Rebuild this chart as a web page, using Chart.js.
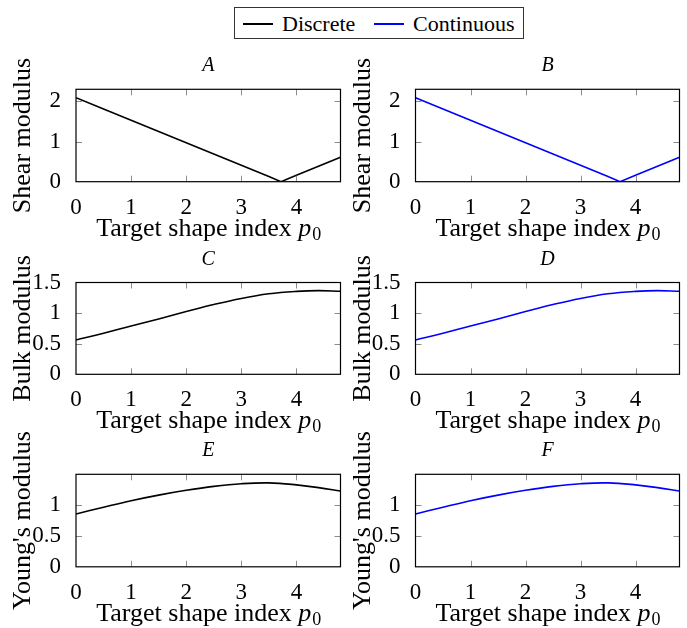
<!DOCTYPE html>
<html>
<head>
<meta charset="utf-8">
<script src="https://cdn.jsdelivr.net/npm/chart.js@4.4.0/dist/chart.umd.min.js"></script>
<style>
    body { margin: 0; background: #fff; width: 687px; height: 628px; position: relative; overflow: hidden; font-family: 'Liberation Serif', serif; }
    canvas { position: absolute; }
    #legend { position: absolute; left: 234px; top: 7px; width: 290px; height: 32px; box-sizing: border-box; border: 1px solid #333; font-size: 22px; }
    #legend .swatch { position: absolute; top: 15px; height: 1.6px; }
    #legend .label { position: absolute; top: 1px; line-height: 30px; }
</style>
</head>
<body>
<div id="legend">
    <span class="swatch" style="left:8px;width:30px;background:#000"></span>
    <span class="label" style="left:47px">Discrete</span>
    <span class="swatch" style="left:139px;width:30px;background:#00f"></span>
    <span class="label" style="left:178px">Continuous</span>
</div>
<canvas id="chartA"></canvas>
<canvas id="chartB"></canvas>
<canvas id="chartC"></canvas>
<canvas id="chartD"></canvas>
<canvas id="chartE"></canvas>
<canvas id="chartF"></canvas>
<script>
// target shape index samples
const pShear = [0, 0.5, 1, 1.5, 2, 2.5, 3, 3.5, 3.72, 4, 4.5, 4.8];
const pSmooth = [0, 0.5, 1, 1.5, 2, 2.5, 3, 3.5, 4, 4.4, 4.8];

const shearDiscrete = [2.09, 1.81, 1.53, 1.25, 0.97, 0.69, 0.41, 0.13, 0, 0.16, 0.44, 0.61];
const shearContinuous = [2.09, 1.81, 1.53, 1.25, 0.97, 0.69, 0.41, 0.13, 0, 0.16, 0.44, 0.61];
const bulkDiscrete = [0.56, 0.67, 0.79, 0.905, 1.025, 1.14, 1.24, 1.315, 1.355, 1.368, 1.357];
const bulkContinuous = [0.56, 0.67, 0.79, 0.905, 1.025, 1.14, 1.24, 1.315, 1.355, 1.368, 1.357];
const youngDiscrete = [0.85, 0.96, 1.065, 1.155, 1.232, 1.295, 1.338, 1.352, 1.32, 1.275, 1.22];
const youngContinuous = [0.85, 0.96, 1.065, 1.155, 1.232, 1.295, 1.338, 1.352, 1.32, 1.275, 1.22];

const xTicks = [0, 1, 2, 3, 4];
const shearTicks = [0, 1, 2];
const bulkTicks = [0, 0.5, 1, 1.5];
const youngTicks = [0, 0.5, 1];

const FONT = '"Liberation Serif", serif';

const panels = [
    { id: 'chartA', title: 'A', yLabel: 'Shear modulus', p: pShear, v: shearDiscrete, color: '#000000', yMax: 2.3, yTicks: shearTicks, smooth: false },
    { id: 'chartB', title: 'B', yLabel: 'Shear modulus', p: pShear, v: shearContinuous, color: '#0000ff', yMax: 2.3, yTicks: shearTicks, smooth: false },
    { id: 'chartC', title: 'C', yLabel: 'Bulk modulus', p: pSmooth, v: bulkDiscrete, color: '#000000', yMax: 1.5, yTicks: bulkTicks, smooth: true },
    { id: 'chartD', title: 'D', yLabel: 'Bulk modulus', p: pSmooth, v: bulkContinuous, color: '#0000ff', yMax: 1.5, yTicks: bulkTicks, smooth: true },
    { id: 'chartE', title: 'E', yLabel: "Young's modulus", p: pSmooth, v: youngDiscrete, color: '#000000', yMax: 1.49, yTicks: youngTicks, smooth: true },
    { id: 'chartF', title: 'F', yLabel: "Young's modulus", p: pSmooth, v: youngContinuous, color: '#0000ff', yMax: 1.49, yTicks: youngTicks, smooth: true }
];

// canvas placement per column / row (canvases overlap a little, they are transparent)
const cols = [
    { left: 0, width: 345, yw: 76, padRight: 4.5, titlePad: 8 },
    { left: 345, width: 342, yw: 70.5, padRight: 7.5, titlePad: 3 }
];
const rows = [
    { top: 40, height: 212, padTop: 49.3, xh: 70.3 },
    { top: 240, height: 202, padTop: 42.5, xh: 67.7 },
    { top: 432, height: 196, padTop: 42.3, xh: 61.2 }
];

// frame, inward ticks, panel title and x label with italic p and subscript 0
const framePlugin = {
    id: 'frame',
    afterDraw(chart, args, opts) {
        const { ctx, chartArea: a, scales: { x, y } } = chart;
        ctx.save();
        ctx.strokeStyle = '#8c8c8c';
        ctx.lineWidth = 1;
        ctx.beginPath();
        x.ticks.forEach(function (t) {
            const px = Math.round(x.getPixelForValue(t.value)) + 0.5;
            if (px <= a.left + 2 || px >= a.right - 2) { return; }
            ctx.moveTo(px, a.bottom); ctx.lineTo(px, a.bottom - 6);
            ctx.moveTo(px, a.top); ctx.lineTo(px, a.top + 6);
        });
        y.ticks.forEach(function (t) {
            const py = Math.round(y.getPixelForValue(t.value)) + 0.5;
            if (py <= a.top + 2 || py >= a.bottom - 2) { return; }
            ctx.moveTo(a.left, py); ctx.lineTo(a.left + 6, py);
            ctx.moveTo(a.right, py); ctx.lineTo(a.right - 6, py);
        });
        ctx.stroke();

        ctx.strokeStyle = '#000';
        ctx.lineWidth = 1.2;
        ctx.strokeRect(a.left, a.top, a.right - a.left, a.bottom - a.top);

        const cx = (a.left + a.right) / 2;
        ctx.fillStyle = '#000';
        ctx.textBaseline = 'alphabetic';
        ctx.textAlign = 'center';
        ctx.font = 'italic 20px ' + FONT;
        ctx.fillText(opts.title, cx, a.top - 18);

        const main = 'Target shape index ';
        ctx.textAlign = 'left';
        ctx.font = '26px ' + FONT;
        const w1 = ctx.measureText(main).width;
        ctx.font = 'italic 26px ' + FONT;
        const w2 = ctx.measureText('p').width;
        ctx.font = '18px ' + FONT;
        const w3 = ctx.measureText('0').width;
        let sx = cx - (w1 + w2 + w3) / 2;
        const base = a.bottom + 54;
        ctx.font = '26px ' + FONT;
        ctx.fillText(main, sx, base);
        sx += w1;
        ctx.font = 'italic 26px ' + FONT;
        ctx.fillText('p', sx, base);
        sx += w2 + 1;
        ctx.font = '18px ' + FONT;
        ctx.fillText('0', sx, base + 4);
        ctx.restore();
    }
};

function makePanel(panel, col, row) {
    const canvas = document.getElementById(panel.id);
    canvas.width = col.width;
    canvas.height = row.height;
    canvas.style.left = col.left + 'px';
    canvas.style.top = row.top + 'px';
    const points = panel.p.map((p, i) => ({ x: p, y: panel.v[i] }));
    return new Chart(canvas, {
        type: 'line',
        data: {
            datasets: [{
                data: points,
                borderColor: panel.color,
                borderWidth: 1.6,
                pointRadius: 0,
                fill: false,
                tension: panel.smooth ? 0.4 : 0
            }]
        },
        plugins: [framePlugin],
        options: {
            responsive: false,
            animation: false,
            layout: { padding: { top: row.padTop, right: col.padRight, bottom: 0, left: 0 } },
            plugins: {
                legend: { display: false },
                tooltip: { enabled: false },
                frame: { title: panel.title }
            },
            scales: {
                x: {
                    type: 'linear',
                    min: 0,
                    max: 4.8,
                    afterBuildTicks: (s) => { s.ticks = xTicks.map(v => ({ value: v })); },
                    afterFit: (s) => { s.height = row.xh; },
                    grid: { display: false },
                    border: { display: false },
                    ticks: { color: '#000', font: { family: FONT, size: 23 }, padding: 4, maxRotation: 0, autoSkip: false, callback: v => String(v) }
                },
                y: {
                    type: 'linear',
                    min: 0,
                    max: panel.yMax,
                    afterBuildTicks: (s) => { s.ticks = panel.yTicks.map(v => ({ value: v })); },
                    afterFit: (s) => { s.width = col.yw; },
                    grid: { display: false },
                    border: { display: false },
                    ticks: { color: '#000', font: { family: FONT, size: 23 }, padding: 7, autoSkip: false, callback: v => String(v) },
                    title: { display: true, text: panel.yLabel, color: '#000', font: { family: FONT, size: 26 }, padding: { top: col.titlePad, bottom: 0 } }
                }
            }
        }
    });
}

panels.forEach(function (panel, i) {
    makePanel(panel, cols[i % 2], rows[Math.floor(i / 2)]);
});
</script>
</body>
</html>
